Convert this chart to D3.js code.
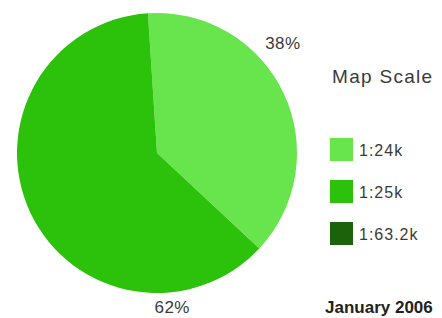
<!DOCTYPE html>
<html>
<head>
<meta charset="utf-8">
<script src="https://cdn.jsdelivr.net/npm/d3@7"></script>
<style>
  body { margin: 0; background: #fff; }
  text { font-family: "Liberation Sans", Arial, sans-serif; fill: #3a3a3a; }
</style>
</head>
<body>
<div id="chart"></div>
<script>
(function(){
	// data
	const scales  = ["1:24k", "1:25k", "1:63.2k"];
	const percent = [38, 62, 0];
	const colors  = ["#68e54c", "#2cc10a", "#1b620a"];
	const legendTitle = "Map Scale";
	const footnote = "January 2006";

	// where along each slice the % label sits (0..1) and how far out
	const labelFrac = [0.385, 0.185, 0.5];
	const labelR = [167, 155, 160];

	var width = 442, height = 318,
		cx = 157, cy = 153, radius = 140;

	var svg = d3.select("#chart")
				.append("svg")
				.attr("width", width)
				.attr("height", height);

	const color = d3.scaleOrdinal().domain(scales).range(colors);

	const pie = d3.pie()
				  .sort(null)
				  .startAngle(-0.065)
				  .endAngle(2 * Math.PI - 0.065)
				  .value(d => d.value);

	const arc = d3.arc().innerRadius(0).outerRadius(radius);

	const data = scales.map((s, i) => ({ scale: s, value: percent[i], frac: labelFrac[i] }));
	const arcs = pie(data);

	const g = svg.append("g")
				 .attr("transform", "translate(" + cx + "," + cy + ")");

	g.selectAll(".slice")
	   .data(arcs.filter(d => d.data.value > 0))
	   .enter().append("path")
	   .attr("class", "slice")
	   .attr("d", arc)
	   .attr("fill", d => color(d.data.scale));

	// percent labels outside the pie
	g.selectAll(".pct")
	   .data(arcs.filter(d => d.data.value > 0))
	   .enter().append("text")
	   .attr("class", "pct")
	   .attr("text-anchor", "middle")
	   .attr("dy", "0.35em")
	   .style("font-size", "17px")
	   .style("letter-spacing", "0.5px")
	   .attr("transform", d => {
	   		const a = d.startAngle + (d.endAngle - d.startAngle) * d.data.frac;
	   		const r = labelR[d.index];
	   		return "translate(" + (Math.sin(a) * r) + "," + (-Math.cos(a) * r) + ")";
	   })
	   .text(d => d.data.value + "%");

	// legend
	const legend = svg.append("g").attr("transform", "translate(330,0)");

	legend.append("text")
		  .attr("x", 2)
		  .attr("y", 83)
		  .style("font-size", "19px")
		  .style("letter-spacing", "1.3px")
		  .text(legendTitle);

	const item = legend.selectAll(".item")
					   .data(scales)
					   .enter().append("g")
					   .attr("class", "item")
					   .attr("transform", (d, i) => "translate(0," + (138 + i * 42) + ")");

	item.append("rect")
		.attr("width", 23)
		.attr("height", 23)
		.attr("fill", d => color(d));

	item.append("text")
		.attr("x", 29)
		.attr("y", 18)
		.style("font-size", "16px")
		.style("letter-spacing", "1px")
		.text(d => d);

	svg.append("text")
	   .attr("x", 325)
	   .attr("y", 313)
	   .style("font-size", "17px")
	   .style("font-weight", "bold")
	   .style("fill", "#222")
	   .text(footnote);
})();
</script>
</body>
</html>
